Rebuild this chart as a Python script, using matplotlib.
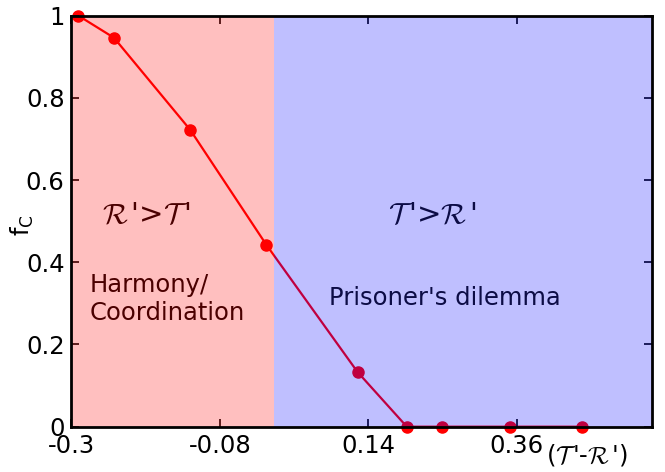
import numpy as np
import matplotlib
matplotlib.use("Agg")
import matplotlib.pyplot as plt

# valores
x_vals = [-0.29, -0.237, -0.124, -0.011, 0.124, 0.197, 0.249, 0.35, 0.457]
fc_vals = [1.0, 0.946, 0.722, 0.442, 0.133, 0.0, 0.0, 0.0, 0.0]
xticks = [-0.3, -0.08, 0.14, 0.36]
xtick_labels = ["-0.3", "-0.08", "0.14", "0.36"]
yticks = [0, 0.2, 0.4, 0.6, 0.8, 1.0]
ytick_labels = ["0", "0.2", "0.4", "0.6", "0.8", "1"]

fig = plt.figure(figsize=(6.65, 4.72), dpi=100)
ax = fig.add_axes([0.1075, 0.096, 0.8725, 0.871])

ax.plot(x_vals, fc_vals, "-o", color="red", lw=1.6, ms=8, zorder=1, clip_on=False)

# regioes coloridas por cima da curva (como no original)
ax.axvspan(-0.3, 0.0, color="red", alpha=0.25, lw=0, zorder=3)
ax.axvspan(0.0, 0.56, color="blue", alpha=0.25, lw=0, zorder=3)

ax.set_xlim(-0.3, 0.56)
ax.set_ylim(0, 1)
ax.set_xticks(xticks)
ax.set_xticklabels(xtick_labels)
ax.set_yticks(yticks)
ax.set_yticklabels(ytick_labels)
ax.tick_params(direction="in", top=True, right=True, length=6, width=1.2,
               labelsize=17.5, pad=5)
for sp in ax.spines.values():
    sp.set_linewidth(2)
    sp.set_zorder(4)

ax.set_ylabel(r"f$_\mathrm{C}$", fontsize=17.5)
ax.yaxis.set_label_coords(-0.062, 0.49)
ax.text(0.403, -0.07, r"($\mathcal{T}\,$'-$\mathcal{R}\,$')",
        fontsize=17.5, math_fontfamily="cm", ha="left", va="center")

dark_red = "#4a0000"
navy = "#0c0c45"
ax.text(-0.255, 0.515, r"$\mathcal{R}\,$'>$\mathcal{T}\,$'", fontsize=21,
        math_fontfamily="cm", color=dark_red, ha="left", va="center", zorder=5)
ax.text(0.235, 0.515, r"$\mathcal{T}\,$'>$\mathcal{R}\,$'", fontsize=21,
        math_fontfamily="cm", color=navy, ha="center", va="center", zorder=5)
ax.text(-0.273, 0.31, "Harmony/\nCoordination", fontsize=17.5, color=dark_red,
        ha="left", va="center", linespacing=1.2, zorder=5)
ax.text(0.253, 0.313, "Prisoner's dilemma", fontsize=17.5, color=navy,
        ha="center", va="center", zorder=5)

fig.savefig("out.png", dpi=100)
